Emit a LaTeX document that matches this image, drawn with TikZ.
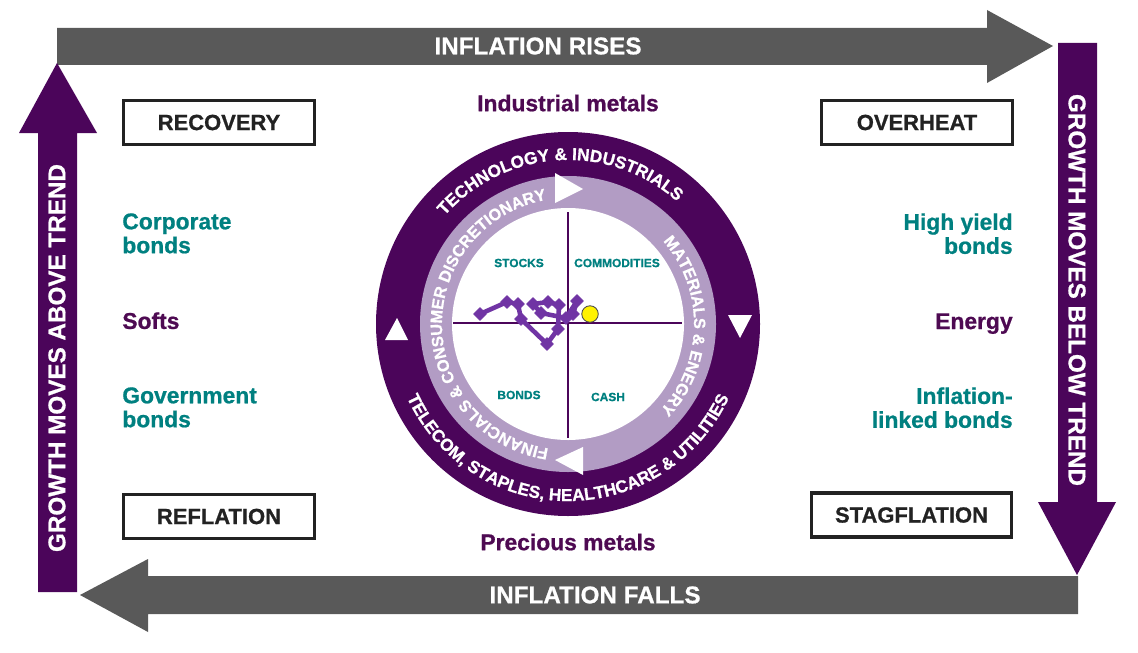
\documentclass[tikz,border=0pt]{standalone}
\usepackage{fontspec}
\setmainfont{Liberation Sans}[BoldFeatures={FakeBold=0.8}]
\usepackage{tikz}
\definecolor{plum}{RGB}{75,5,90}
\definecolor{plumtext}{RGB}{78,10,82}
\definecolor{lilac}{RGB}{178,156,196}
\definecolor{slate}{RGB}{89,89,89}
\definecolor{tealtext}{RGB}{0,128,128}
\definecolor{boxline}{RGB}{34,34,34}
\definecolor{trailpurple}{RGB}{112,52,164}
\usetikzlibrary{decorations.text,plotmarks}
\newcommand*{\ringfont}{\fontsize{9.8}{10}\selectfont\bfseries\color{white}}
\newcommand*{\innerringfont}{\fontsize{9.3}{10}\selectfont\bfseries\color{white}}
\tikzset{%
  phase/.style={draw=boxline, line width=1.8pt, fill=white, minimum width=3.82cm,
    minimum height=0.88cm, font=\fontsize{12.5}{14}\selectfont\bfseries, text=boxline},% regime boxes
  asset/.style={inner sep=0pt, font=\fontsize{13}{13.6}\selectfont\bfseries, text=tealtext},
  commodity/.style={asset, text=plumtext},
  flowlabel/.style={font=\fontsize{13.8}{16}\selectfont\bfseries, text=white},% text in the big arrows
  quadrant/.style={font=\fontsize{6.8}{8}\selectfont\bfseries, text=tealtext},
  pointer/.style={fill=white},% small white triangles on the clock
  axis/.style={draw=plum, line width=1.1pt},
  trail/.style={draw=trailpurple, line width=2.6pt, line join=round, mark=square*,
    mark size=2.6pt, mark options={fill=trailpurple, draw=trailpurple, rotate=45, line width=0.4pt}},
  now/.style={circle, fill=yellow, draw=black!70, line width=0.5pt, minimum size=0.33cm, inner sep=0pt},
  ringtext/.style={decorate, decoration={text along path, text align=center, text={#1}}}
}

\begin{document}
\begin{tikzpicture}[x=0.02cm, y=0.02cm]
\useasboundingbox (0,0) rectangle (1138,-652);

% the four big arrows
\fill[slate] (57,-28) -- (987,-28) -- (987,-10) -- (1053,-46) -- (987,-83) -- (987,-65) -- (57,-65) -- cycle;
\fill[plum] (1058,-43) -- (1097,-43) -- (1097,-502) -- (1116,-502) -- (1077,-575) -- (1038,-502) -- (1058,-502) -- cycle;
\fill[slate] (1078,-576) -- (148,-576) -- (148,-559) -- (80,-595) -- (148,-632) -- (148,-614) -- (1078,-614) -- cycle;
\fill[plum] (38,-592) -- (38,-133) -- (19,-133) -- (57,-63) -- (97,-133) -- (77,-133) -- (77,-592) -- cycle;

\node[flowlabel] (rises) at (538,-46) {INFLATION RISES};
\node[flowlabel] (falls) at (595,-595) {INFLATION FALLS};
\node[flowlabel, rotate=90] (above) at (57,-358) {GROWTH MOVES ABOVE TREND};
\node[flowlabel, rotate=-90] (below) at (1077,-290) {GROWTH MOVES BELOW TREND};

\node[phase] (recovery) at (219,-122.5) {RECOVERY};
\node[phase] (overheat) at (917,-122.5) {OVERHEAT};
\node[phase] (reflation) at (219,-516.5) {REFLATION};
\node[phase, minimum width=4.0cm] (stagflation) at (911.5,-515) {STAGFLATION};

\node[commodity] (industrial) at (568,-103) {Industrial metals};
\node[commodity] (precious) at (568,-542) {Precious metals};

\node[asset, anchor=north west, align=left] (corporate) at (122,-213) {Corporate\\bonds};
\node[commodity, anchor=north west] (softs) at (122,-312) {Softs};
\node[asset, anchor=north west, align=left] (government) at (122,-387) {Government\\bonds};
\node[asset, anchor=north east, align=right] (highyield) at (1013,-213) {High yield\\bonds};
\node[commodity, anchor=north east] (energy) at (1013,-313) {Energy};
\node[asset, anchor=north east, align=right] (linkers) at (1013,-387) {Inflation-\\linked bonds};

% investment clock
\begin{scope}[shift={(568,-324)}]
  \fill[plum] (0,0) circle[radius=192];
  \fill[lilac] (0,0) circle[radius=148];
  \fill[white] (0,0) circle[radius=116];

  \fill[pointer] (-13,151) -- (15,135) -- (-13,121) -- cycle;
  \fill[pointer] (15,-123) -- (-13,-136) -- (15,-151) -- cycle;
  \fill[pointer] (-183,-16) -- (-171,6) -- (-160,-16) -- cycle;
  \fill[pointer] (160,9) -- (172,-14) -- (184,9) -- cycle;

  \path[ringtext={|\ringfont|TECHNOLOGY {\&} INDUSTRIALS}] (160:164) arc (160:27:164);
  \path[ringtext={|\ringfont|TELECOM, STAPLES, HEALTHCARE {\&} UTILITIES}] (193:177) arc (193:347:177);
  \path[ringtext={|\innerringfont|FINANCIALS {\&} CONSUMER DISCRETIONARY}] (272:126) arc (272:89:126);
  \path[ringtext={|\innerringfont|MATERIALS {\&} ENEGRY}] (50:126) arc (50:-52:126);

  \draw[axis] (-115,1) -- (114,1);
  \draw[axis] (0,112) -- (0,-114);

  \node[quadrant] (stocks) at (-49,61) {STOCKS};
  \node[quadrant] (commodities) at (49,61) {COMMODITIES};
  \node[quadrant] (bonds) at (-49,-71) {BONDS};
  \node[quadrant] (cash) at (40,-73) {CASH};

  \draw[trail] plot coordinates {(-88,10) (-61,22) (-50,20) (-47,5) (-21,-20) (-10,-5) (-9,19)
    (-20,22) (-35,20) (-27,11) (-2,6) (9,23) (5,10)};
  \node[now] (today) at (22,10) {};
\end{scope}
\end{tikzpicture}
\end{document}
